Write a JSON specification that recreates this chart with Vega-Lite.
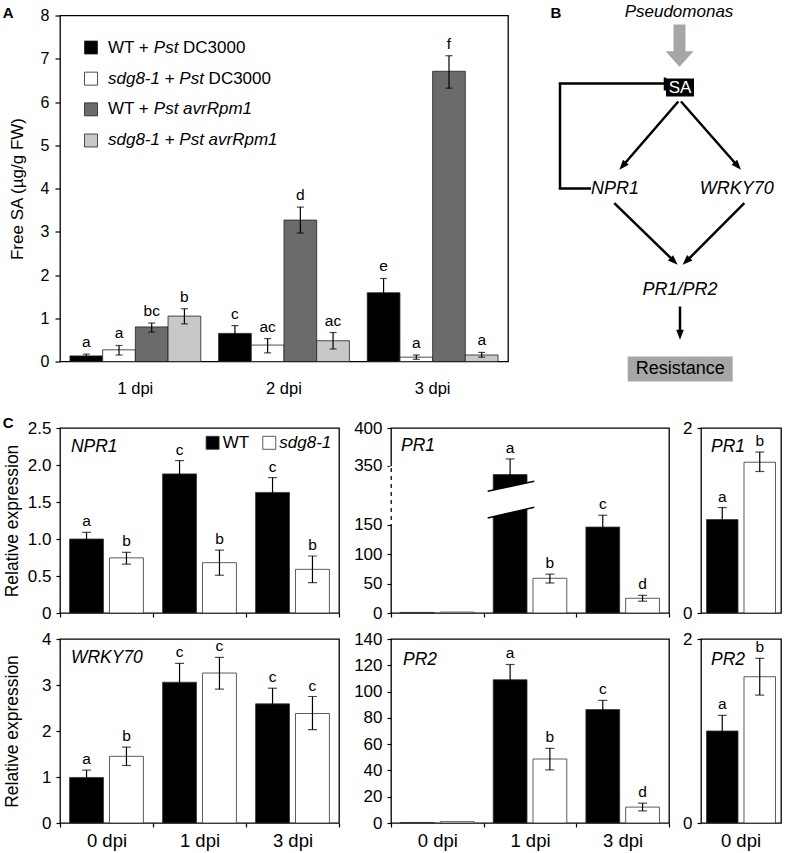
{
  "$schema": "https://vega.github.io/schema/vega-lite/v6.json",
  "padding": {"left": 2, "top": 1.5, "right": 0, "bottom": 0},
  "background": "white",
  "config": {
    "font": "Liberation Sans",
    "view": {"stroke": "#000000", "strokeWidth": 1.3},
    "axis": {"domain": false, "grid": false, "labelOverlap": false, "labelColor": "#000000", "labelFont": "Liberation Sans", "labelFontSize": 17, "tickColor": "#000000", "tickWidth": 1.2, "tickSize": 4, "labelPadding": 5, "titleColor": "#000000", "titleFont": "Liberation Sans", "titleFontWeight": "normal", "titleFontSize": 17.5},
    "text": {"color": "#000000"}
  },
  "spacing": 16.5,
  "vconcat": [
    {
      "spacing": 8,
      "bounds": "flush",
      "hconcat": [
        {
          "width": 448, "height": 346,
          "layer": [
            {
              "data": {"values": [
                {"day": "1 dpi", "series": "WT + Pst DC3000", "v": 0.13, "lo": 0.09, "hi": 0.17, "lab": "a"},
                {"day": "1 dpi", "series": "sdg8-1 + Pst DC3000", "v": 0.27, "lo": 0.15, "hi": 0.37, "lab": "a"},
                {"day": "1 dpi", "series": "WT + Pst avrRpm1", "v": 0.80, "lo": 0.68, "hi": 0.89, "lab": "bc"},
                {"day": "1 dpi", "series": "sdg8-1 + Pst avrRpm1", "v": 1.05, "lo": 0.87, "hi": 1.22, "lab": "b"},
                {"day": "2 dpi", "series": "WT + Pst DC3000", "v": 0.65, "lo": 0.47, "hi": 0.83, "lab": "c"},
                {"day": "2 dpi", "series": "sdg8-1 + Pst DC3000", "v": 0.38, "lo": 0.20, "hi": 0.53, "lab": "ac"},
                {"day": "2 dpi", "series": "WT + Pst avrRpm1", "v": 3.27, "lo": 2.97, "hi": 3.57, "lab": "d"},
                {"day": "2 dpi", "series": "sdg8-1 + Pst avrRpm1", "v": 0.48, "lo": 0.29, "hi": 0.67, "lab": "ac"},
                {"day": "3 dpi", "series": "WT + Pst DC3000", "v": 1.59, "lo": 1.27, "hi": 1.92, "lab": "e"},
                {"day": "3 dpi", "series": "sdg8-1 + Pst DC3000", "v": 0.10, "lo": 0.05, "hi": 0.15, "lab": "a"},
                {"day": "3 dpi", "series": "WT + Pst avrRpm1", "v": 6.71, "lo": 6.32, "hi": 7.07, "lab": "f"},
                {"day": "3 dpi", "series": "sdg8-1 + Pst avrRpm1", "v": 0.15, "lo": 0.10, "hi": 0.21, "lab": "a"}
              ]},
              "encoding": {
                "x": {"field": "day", "type": "nominal", "sort": ["1 dpi", "2 dpi", "3 dpi"], "scale": {"paddingInner": 0.12, "paddingOuter": 0.067}, "axis": {"title": null, "labelAngle": 0, "ticks": false, "tickSize": 0, "labelPadding": 19, "labelFontSize": 16.5}},
                "xOffset": {"field": "series", "type": "nominal", "sort": ["WT + Pst DC3000", "sdg8-1 + Pst DC3000", "WT + Pst avrRpm1", "sdg8-1 + Pst avrRpm1"], "scale": {"paddingInner": 0, "paddingOuter": 0}}
              },
              "layer": [
                {"mark": {"type": "bar", "stroke": "#222222", "strokeWidth": 0.8},
                 "encoding": {
                   "y": {"field": "v", "type": "quantitative", "scale": {"domain": [0, 8], "nice": false, "zero": false}, "axis": {"title": "Free SA (µg/g FW)", "values": [0, 1, 2, 3, 4, 5, 6, 7, 8], "tickCount": 30, "format": "d", "labelOverlap": false, "tickSize": 5, "labelPadding": 6, "labelFontSize": 16, "titleFontSize": 17, "titlePadding": 14}},
                   "color": {"field": "series", "type": "nominal", "scale": {"domain": ["WT + Pst DC3000", "sdg8-1 + Pst DC3000", "WT + Pst avrRpm1", "sdg8-1 + Pst avrRpm1"], "range": ["#000000", "#ffffff", "#6b6b6b", "#c8c8c8"]}, "legend": null}
                 }},
                {"mark": {"type": "rule", "color": "#000000", "strokeWidth": 1.2}, "encoding": {"y": {"field": "lo", "type": "quantitative"}, "y2": {"field": "hi"}}},
                {"mark": {"type": "tick", "color": "#000000", "size": 7, "thickness": 1.2}, "encoding": {"y": {"field": "lo", "type": "quantitative"}}},
                {"mark": {"type": "tick", "color": "#000000", "size": 7, "thickness": 1.2}, "encoding": {"y": {"field": "hi", "type": "quantitative"}}},
                {"mark": {"type": "text", "fontSize": 15.5, "baseline": "bottom", "dy": -4}, "encoding": {"y": {"field": "hi", "type": "quantitative"}, "text": {"field": "lab"}}}
              ]
            },
            {
              "data": {"values": [
                {"kind": "b", "fx": -0.1279, "v": 8.05, "t": "A", "fs": 15},
                {"kind": "sq", "fx": 0.0692, "v": 7.26, "series": "WT + Pst DC3000"},
                {"kind": "sq", "fx": 0.0692, "v": 6.54, "series": "sdg8-1 + Pst DC3000"},
                {"kind": "sq", "fx": 0.0692, "v": 5.83, "series": "WT + Pst avrRpm1"},
                {"kind": "sq", "fx": 0.0692, "v": 5.11, "series": "sdg8-1 + Pst avrRpm1"},
                {"kind": "n", "fx": 0.1071, "v": 7.26, "t": "WT +", "fs": 17},
                {"kind": "i", "fx": 0.2094, "v": 7.26, "t": "Pst", "fs": 17},
                {"kind": "n", "fx": 0.2746, "v": 7.26, "t": "DC3000", "fs": 17},
                {"kind": "i", "fx": 0.1071, "v": 6.54, "t": "sdg8-1", "fs": 17},
                {"kind": "n", "fx": 0.2337, "v": 6.54, "t": "+", "fs": 17},
                {"kind": "i", "fx": 0.2663, "v": 6.54, "t": "Pst", "fs": 17},
                {"kind": "n", "fx": 0.3317, "v": 6.54, "t": "DC3000", "fs": 17},
                {"kind": "n", "fx": 0.1071, "v": 5.83, "t": "WT +", "fs": 17},
                {"kind": "i", "fx": 0.2094, "v": 5.83, "t": "Pst avrRpm1", "fs": 17},
                {"kind": "i", "fx": 0.1071, "v": 5.11, "t": "sdg8-1", "fs": 17},
                {"kind": "n", "fx": 0.2337, "v": 5.11, "t": "+", "fs": 17},
                {"kind": "i", "fx": 0.2663, "v": 5.11, "t": "Pst avrRpm1", "fs": 17}
              ]},
              "encoding": {
                "x": {"field": "fx", "type": "quantitative", "scale": {"domain": [0, 1], "nice": false, "zero": false}, "axis": null},
                "y": {"field": "v", "type": "quantitative", "axis": {"title": "Free SA (µg/g FW)", "values": [0, 1, 2, 3, 4, 5, 6, 7, 8], "tickCount": 30, "format": "d", "labelOverlap": false, "tickSize": 5, "labelPadding": 6, "labelFontSize": 16, "titleFontSize": 17, "titlePadding": 14}}
              },
              "layer": [
                {"transform": [{"filter": "datum.kind === 'sq'"}], "mark": {"type": "point", "shape": "square", "filled": true, "size": 169, "stroke": "#222222", "strokeWidth": 0.8, "opacity": 1}, "encoding": {"color": {"field": "series", "type": "nominal"}}},
                {"transform": [{"filter": "datum.kind === 'n'"}], "mark": {"type": "text", "align": "left", "baseline": "middle"}, "encoding": {"text": {"field": "t"}, "size": {"field": "fs", "type": "quantitative", "scale": null, "legend": null}}},
                {"transform": [{"filter": "datum.kind === 'i'"}], "mark": {"type": "text", "align": "left", "baseline": "middle", "fontStyle": "italic"}, "encoding": {"text": {"field": "t"}, "size": {"field": "fs", "type": "quantitative", "scale": null, "legend": null}}},
                {"transform": [{"filter": "datum.kind === 'b'"}], "mark": {"type": "text", "align": "left", "baseline": "middle", "fontWeight": "bold"}, "encoding": {"text": {"field": "t"}, "size": {"field": "fs", "type": "quantitative", "scale": null, "legend": null}}}
              ]
            }
          ],
          "resolve": {"scale": {"x": "independent", "xOffset": "independent"}}
        },
        {
          "width": 268, "height": 346,
          "view": {"stroke": null},
          "encoding": {
            "x": {"field": "gx", "type": "quantitative", "scale": {"domain": [0, 268], "nice": false, "zero": false}, "axis": null},
            "y": {"field": "gy", "type": "quantitative", "scale": {"domain": [0, 346], "nice": false, "zero": false}, "axis": null}
          },
          "layer": [
            {"data": {"values": [
              {"gx": 150, "gx2": 178, "gy": 283, "gy2": 265, "fill": "#000000"},
              {"gx": 111.7, "gx2": 216.7, "gy": 5, "gy2": -20, "fill": "#a6a6a6"}
            ]}, "mark": {"type": "rect"}, "encoding": {"x2": {"field": "gx2"}, "y2": {"field": "gy2"}, "color": {"field": "fill", "type": "nominal", "scale": null}}},
            {"data": {"values": [{"gx": 163.5, "gy": 337, "gx2": 163.5, "gy2": 309}]}, "mark": {"type": "rule", "color": "#a6a6a6", "strokeWidth": 12}, "encoding": {"x2": {"field": "gx2"}, "y2": {"field": "gy2"}}},
            {"data": {"values": [{"gx": 163.5, "gy": 302.5}]}, "mark": {"type": "point", "shape": "M-1,-0.55L1,-0.55L0,0.55Z", "filled": true, "size": 784, "color": "#a6a6a6", "opacity": 1, "strokeWidth": 0}, "encoding": {}},
            {"data": {"values": [
              {"gx": 162.3, "gy": 260, "gx2": 108.5, "gy2": 197.7},
              {"gx": 165, "gy": 260, "gx2": 219.7, "gy2": 197.7},
              {"gx": 98.3, "gy": 158.3, "gx2": 156, "gy2": 102.3},
              {"gx": 228.3, "gy": 158.3, "gx2": 172.4, "gy2": 102.3},
              {"gx": 164, "gy": 55, "gx2": 164, "gy2": 29.7},
              {"gx": 149, "gy": 284, "gx2": 149, "gy2": 271}
            ]}, "mark": {"type": "rule", "color": "#000000", "strokeWidth": 2.5}, "encoding": {"x2": {"field": "gx2"}, "y2": {"field": "gy2"}}},
            {"data": {"values": [
              {"gx": 148, "gy": 278, "o": 1},
              {"gx": 44, "gy": 278, "o": 2},
              {"gx": 44, "gy": 173, "o": 3},
              {"gx": 75, "gy": 173, "o": 4}
            ]}, "mark": {"type": "line", "color": "#000000", "strokeWidth": 2.5}, "encoding": {"order": {"field": "o", "type": "quantitative"}}},
            {"data": {"values": [
              {"gx": 106.6, "gy": 195.5, "ang": 220.8},
              {"gx": 221.7, "gy": 195.4, "ang": 138.7},
              {"gx": 158.1, "gy": 100.2, "ang": 134.2},
              {"gx": 170.2, "gy": 100.2, "ang": 225},
              {"gx": 164, "gy": 26.7, "ang": 180}
            ]}, "mark": {"type": "point", "shape": "M0,-1L0.75,1L-0.75,1Z", "filled": true, "size": 100, "color": "#000000", "opacity": 1, "strokeWidth": 0}, "encoding": {"angle": {"field": "ang", "type": "quantitative", "scale": null}}},
            {"data": {"values": [
              {"t": "Pseudomonas", "gx": 163, "gy": 350, "fs": 17, "c": "#000000"},
              {"t": "NPR1", "gx": 99, "gy": 173, "fs": 18, "c": "#000000"},
              {"t": "WRKY70", "gx": 220.8, "gy": 173, "fs": 18, "c": "#000000"},
              {"t": "PR1/PR2", "gx": 164, "gy": 72, "fs": 18, "c": "#000000"}
            ]}, "mark": {"type": "text", "align": "center", "baseline": "middle", "fontStyle": "italic"}, "encoding": {"text": {"field": "t"}, "size": {"field": "fs", "type": "quantitative", "scale": null, "legend": null}, "color": {"field": "c", "type": "nominal", "scale": null}}},
            {"data": {"values": [
              {"t": "SA", "gx": 164, "gy": 274, "fs": 17, "c": "#ffffff"},
              {"t": "Resistance", "gx": 164.2, "gy": -7.5, "fs": 18, "c": "#000000"}
            ]}, "mark": {"type": "text", "align": "center", "baseline": "middle"}, "encoding": {"text": {"field": "t"}, "size": {"field": "fs", "type": "quantitative", "scale": null, "legend": null}, "color": {"field": "c", "type": "nominal", "scale": null}}},
            {"data": {"values": [{"t": "B", "gx": 40, "gy": 349, "fs": 15}]}, "mark": {"type": "text", "align": "center", "baseline": "middle", "fontWeight": "bold"}, "encoding": {"text": {"field": "t"}, "size": {"field": "fs", "type": "quantitative", "scale": null, "legend": null}}}
          ]
        }
      ]
    },
    {
      "spacing": 7,
      "vconcat": [
        {
          "spacing": 0,
          "bounds": "flush",
          "hconcat": [
            {
              "width": 279, "height": 185,
              "layer": [
                {
                  "data": {"values": [
                    {"g": "0 dpi", "s": "WT", "v": 1.0, "lo": 0.91, "hi": 1.09, "lab": "a"},
                    {"g": "0 dpi", "s": "sdg8-1", "v": 0.745, "lo": 0.66, "hi": 0.82, "lab": "b"},
                    {"g": "1 dpi", "s": "WT", "v": 1.88, "lo": 1.70, "hi": 2.06, "lab": "c"},
                    {"g": "1 dpi", "s": "sdg8-1", "v": 0.68, "lo": 0.51, "hi": 0.85, "lab": "b"},
                    {"g": "3 dpi", "s": "WT", "v": 1.63, "lo": 1.43, "hi": 1.83, "lab": "c"},
                    {"g": "3 dpi", "s": "sdg8-1", "v": 0.59, "lo": 0.41, "hi": 0.77, "lab": "b"}
                  ]},
                  "encoding": {
                    "x": {"field": "g", "type": "nominal", "sort": ["0 dpi", "1 dpi", "3 dpi"], "scale": {"paddingInner": 0, "paddingOuter": 0}, "axis": {"title": null, "labels": false, "tickBand": "extent"}},
                    "xOffset": {"field": "s", "type": "nominal", "sort": ["WT", "sdg8-1"], "scale": {"paddingInner": 0.15, "paddingOuter": 0.24}}
                  },
                  "layer": [
                    {"mark": {"type": "bar", "stroke": "#333333", "strokeWidth": 0.8}, "encoding": {
                      "y": {"field": "v", "type": "quantitative", "scale": {"domain": [0, 2.5], "nice": false, "zero": false}, "axis": {"title": "Relative expression", "values": [0, 0.5, 1, 1.5, 2, 2.5], "tickCount": 30, "labelOverlap": false, "labelExpr": "datum.value === 0 ? '0' : format(datum.value, '.1f')", "minExtent": 33, "maxExtent": 33, "titlePadding": 6}},
                      "color": {"field": "s", "type": "nominal", "scale": {"domain": ["WT", "sdg8-1"], "range": ["#000000", "#ffffff"]}, "legend": null}}},
                    {"mark": {"type": "rule", "color": "#000000", "strokeWidth": 1.2}, "encoding": {"y": {"field": "lo", "type": "quantitative"}, "y2": {"field": "hi"}}},
                    {"mark": {"type": "tick", "color": "#000000", "size": 9, "thickness": 1.2}, "encoding": {"y": {"field": "lo", "type": "quantitative"}}},
                    {"mark": {"type": "tick", "color": "#000000", "size": 9, "thickness": 1.2}, "encoding": {"y": {"field": "hi", "type": "quantitative"}}},
                    {"mark": {"type": "text", "fontSize": 15.5, "baseline": "bottom", "dy": -3}, "encoding": {"y": {"field": "hi", "type": "quantitative"}, "text": {"field": "lab"}}}
                  ]
                },
                {
                  "data": {"values": [
                    {"kind": "b", "fx": -0.2054, "v": 2.57, "t": "C", "fs": 15},
                    {"kind": "i", "fx": 0.039, "v": 2.24, "t": "NPR1", "fs": 17.5},
                    {"kind": "sq", "fx": 0.547, "v": 2.30, "s": "WT"},
                    {"kind": "sq", "fx": 0.750, "v": 2.30, "s": "sdg8-1"},
                    {"kind": "n", "fx": 0.583, "v": 2.30, "t": "WT", "fs": 17},
                    {"kind": "i", "fx": 0.786, "v": 2.30, "t": "sdg8-1", "fs": 17}
                  ]},
                  "encoding": {
                    "x": {"field": "fx", "type": "quantitative", "scale": {"domain": [0, 1], "nice": false, "zero": false}, "axis": null},
                    "y": {"field": "v", "type": "quantitative", "axis": {"title": "Relative expression", "values": [0, 0.5, 1, 1.5, 2, 2.5], "tickCount": 30, "labelOverlap": false, "labelExpr": "datum.value === 0 ? '0' : format(datum.value, '.1f')", "minExtent": 33, "maxExtent": 33, "titlePadding": 6}}
                  },
                  "layer": [
                    {"transform": [{"filter": "datum.kind === 'sq'"}], "mark": {"type": "point", "shape": "square", "filled": true, "size": 169, "stroke": "#333333", "strokeWidth": 0.8, "opacity": 1}, "encoding": {"color": {"field": "s", "type": "nominal"}}},
                    {"transform": [{"filter": "datum.kind === 'n'"}], "mark": {"type": "text", "align": "left", "baseline": "middle"}, "encoding": {"text": {"field": "t"}, "size": {"field": "fs", "type": "quantitative", "scale": null, "legend": null}}},
                    {"transform": [{"filter": "datum.kind === 'i'"}], "mark": {"type": "text", "align": "left", "baseline": "middle", "fontStyle": "italic"}, "encoding": {"text": {"field": "t"}, "size": {"field": "fs", "type": "quantitative", "scale": null, "legend": null}}},
                    {"transform": [{"filter": "datum.kind === 'b'"}], "mark": {"type": "text", "align": "left", "baseline": "middle", "fontWeight": "bold"}, "encoding": {"text": {"field": "t"}, "size": {"field": "fs", "type": "quantitative", "scale": null, "legend": null}}}
                  ]
                }
              ],
              "resolve": {"scale": {"x": "independent", "xOffset": "independent"}}
            },
            {"width": 52, "height": 185, "view": {"stroke": null}, "data": {"values": [{"a": 1}]}, "mark": {"type": "point", "opacity": 0}},
            {
              "width": 278, "height": 185,
              "layer": [
                {
                  "data": {"values": [
                    {"g": "0 dpi", "s": "WT", "v": 1, "lo": 1, "hi": 1, "lab": ""},
                    {"g": "0 dpi", "s": "sdg8-1", "v": 1.6, "lo": 1.6, "hi": 1.6, "lab": ""},
                    {"g": "1 dpi", "s": "WT", "v": 320, "lo": 281, "hi": 359, "lab": "a"},
                    {"g": "1 dpi", "s": "sdg8-1", "v": 59, "lo": 51, "hi": 66, "lab": "b"},
                    {"g": "3 dpi", "s": "WT", "v": 146, "lo": 110, "hi": 182, "lab": "c"},
                    {"g": "3 dpi", "s": "sdg8-1", "v": 25, "lo": 20, "hi": 30, "lab": "d"}
                  ]},
                  "encoding": {
                    "x": {"field": "g", "type": "nominal", "sort": ["0 dpi", "1 dpi", "3 dpi"], "scale": {"paddingInner": 0, "paddingOuter": 0}, "axis": {"title": null, "labels": false, "tickBand": "extent"}},
                    "xOffset": {"field": "s", "type": "nominal", "sort": ["WT", "sdg8-1"], "scale": {"paddingInner": 0.15, "paddingOuter": 0.24}}
                  },
                  "layer": [
                    {"mark": {"type": "bar", "stroke": "#333333", "strokeWidth": 0.8}, "encoding": {
                      "y": {"field": "v", "type": "quantitative", "scale": {"domain": [0, 150, 350, 400], "range": [185, 96.7, 37.7, 0], "nice": false, "zero": false}, "axis": {"title": null, "values": [0, 50, 100, 150, 350, 400], "tickCount": 30, "format": "d", "labelOverlap": false}},
                      "color": {"field": "s", "type": "nominal", "scale": {"domain": ["WT", "sdg8-1"], "range": ["#000000", "#ffffff"]}, "legend": null}}},
                    {"transform": [{"filter": "datum.hi > datum.lo"}], "mark": {"type": "rule", "color": "#000000", "strokeWidth": 1.2}, "encoding": {"y": {"field": "lo", "type": "quantitative"}, "y2": {"field": "hi"}}},
                    {"transform": [{"filter": "datum.hi > datum.lo"}], "mark": {"type": "tick", "color": "#000000", "size": 9, "thickness": 1.2}, "encoding": {"y": {"field": "lo", "type": "quantitative"}}},
                    {"transform": [{"filter": "datum.hi > datum.lo"}], "mark": {"type": "tick", "color": "#000000", "size": 9, "thickness": 1.2}, "encoding": {"y": {"field": "hi", "type": "quantitative"}}},
                    {"mark": {"type": "text", "fontSize": 15.5, "baseline": "bottom", "dy": -3}, "encoding": {"y": {"field": "hi", "type": "quantitative"}, "text": {"field": "lab"}}}
                  ]
                },
                {
                  "data": {"values": [
                    {"kind": "i", "fx": 0.108, "v": 375.7, "t": "PR1", "fs": 17.5},
                    {"kind": "brk", "fx": 1.043, "v": 263.2, "v2": 172.7},
                    {"kind": "brk", "fx": 1.546, "v": 297.1, "v2": 209},
                    {"kind": "edge", "e": "top", "fx": 1.043, "v": 263.2},
                    {"kind": "edge", "e": "top", "fx": 1.546, "v": 297.1},
                    {"kind": "edge", "e": "bot", "fx": 1.043, "v": 172.7},
                    {"kind": "edge", "e": "bot", "fx": 1.546, "v": 209},
                    {"kind": "dash", "fx": 0, "v": 152, "v2": 348}
                  ]},
                  "encoding": {
                    "x": {"field": "fx", "type": "quantitative", "scale": {"domain": [0, 3], "nice": false, "zero": false}, "axis": null},
                    "y": {"field": "v", "type": "quantitative", "axis": {"title": null, "values": [0, 50, 100, 150, 350, 400], "tickCount": 30, "format": "d", "labelOverlap": false}}
                  },
                  "layer": [
                    {"transform": [{"filter": "datum.kind === 'brk'"}], "mark": {"type": "area", "color": "#ffffff", "opacity": 1}, "encoding": {"y2": {"field": "v2"}}},
                    {"transform": [{"filter": "datum.kind === 'edge'"}], "mark": {"type": "line", "color": "#000000", "strokeWidth": 1.5}, "encoding": {"detail": {"field": "e", "type": "nominal"}}},
                    {"transform": [{"filter": "datum.kind === 'dash'"}], "mark": {"type": "rule", "color": "#ffffff", "strokeWidth": 3, "strokeDash": [4, 4]}, "encoding": {"y2": {"field": "v2"}}},
                    {"transform": [{"filter": "datum.kind === 'i'"}], "mark": {"type": "text", "align": "left", "baseline": "middle", "fontStyle": "italic"}, "encoding": {"text": {"field": "t"}, "size": {"field": "fs", "type": "quantitative", "scale": null, "legend": null}}}
                  ]
                }
              ],
              "resolve": {"scale": {"x": "independent", "xOffset": "independent"}}
            },
            {"width": 32, "height": 185, "view": {"stroke": null}, "data": {"values": [{"a": 1}]}, "mark": {"type": "point", "opacity": 0}},
            {
              "width": 80, "height": 185,
              "layer": [
                {
                  "data": {"values": [
                    {"g": "0 dpi", "s": "WT", "v": 1.01, "lo": 0.88, "hi": 1.14, "lab": "a"},
                    {"g": "0 dpi", "s": "sdg8-1", "v": 1.63, "lo": 1.53, "hi": 1.74, "lab": "b"}
                  ]},
                  "encoding": {
                    "x": {"field": "g", "type": "nominal", "sort": ["0 dpi"], "scale": {"paddingInner": 0, "paddingOuter": 0}, "axis": {"title": null, "labels": false, "ticks": false}},
                    "xOffset": {"field": "s", "type": "nominal", "sort": ["WT", "sdg8-1"], "scale": {"paddingInner": 0.16, "paddingOuter": 0.147}}
                  },
                  "layer": [
                    {"mark": {"type": "bar", "stroke": "#333333", "strokeWidth": 0.8}, "encoding": {
                      "y": {"field": "v", "type": "quantitative", "scale": {"domain": [0, 2], "nice": false, "zero": false}, "axis": {"title": null, "values": [0, 1, 2], "tickCount": 30, "format": "d", "labelOverlap": false}},
                      "color": {"field": "s", "type": "nominal", "scale": {"domain": ["WT", "sdg8-1"], "range": ["#000000", "#ffffff"]}, "legend": null}}},
                    {"mark": {"type": "rule", "color": "#000000", "strokeWidth": 1.2}, "encoding": {"y": {"field": "lo", "type": "quantitative"}, "y2": {"field": "hi"}}},
                    {"mark": {"type": "tick", "color": "#000000", "size": 9, "thickness": 1.2}, "encoding": {"y": {"field": "lo", "type": "quantitative"}}},
                    {"mark": {"type": "tick", "color": "#000000", "size": 9, "thickness": 1.2}, "encoding": {"y": {"field": "hi", "type": "quantitative"}}},
                    {"mark": {"type": "text", "fontSize": 15.5, "baseline": "bottom", "dy": -3}, "encoding": {"y": {"field": "hi", "type": "quantitative"}, "text": {"field": "lab"}}}
                  ]
                },
                {
                  "data": {"values": [{"kind": "i", "fx": 0.125, "v": 1.80, "t": "PR1", "fs": 17.5}]},
                  "encoding": {
                    "x": {"field": "fx", "type": "quantitative", "scale": {"domain": [0, 1], "nice": false, "zero": false}, "axis": null},
                    "y": {"field": "v", "type": "quantitative", "axis": {"title": null, "values": [0, 1, 2], "tickCount": 30, "format": "d", "labelOverlap": false}}
                  },
                  "layer": [
                    {"mark": {"type": "text", "align": "left", "baseline": "middle", "fontStyle": "italic"}, "encoding": {"text": {"field": "t"}, "size": {"field": "fs", "type": "quantitative", "scale": null, "legend": null}}}
                  ]
                }
              ],
              "resolve": {"scale": {"x": "independent", "xOffset": "independent"}}
            }
          ]
        },
        {
          "spacing": 0,
          "bounds": "flush",
          "hconcat": [
            {
              "width": 279, "height": 184,
              "layer": [
                {
                  "data": {"values": [
                    {"g": "0 dpi", "s": "WT", "v": 0.99, "lo": 0.83, "hi": 1.15, "lab": "a"},
                    {"g": "0 dpi", "s": "sdg8-1", "v": 1.45, "lo": 1.25, "hi": 1.65, "lab": "b"},
                    {"g": "1 dpi", "s": "WT", "v": 3.06, "lo": 2.65, "hi": 3.47, "lab": "c"},
                    {"g": "1 dpi", "s": "sdg8-1", "v": 3.26, "lo": 2.91, "hi": 3.60, "lab": "c"},
                    {"g": "3 dpi", "s": "WT", "v": 2.59, "lo": 2.25, "hi": 2.93, "lab": "c"},
                    {"g": "3 dpi", "s": "sdg8-1", "v": 2.38, "lo": 2.03, "hi": 2.75, "lab": "c"}
                  ]},
                  "encoding": {
                    "x": {"field": "g", "type": "nominal", "sort": ["0 dpi", "1 dpi", "3 dpi"], "scale": {"paddingInner": 0, "paddingOuter": 0}, "axis": {"title": null, "labelAngle": 0, "tickBand": "extent", "labelFontSize": 18.5, "labelPadding": 4}},
                    "xOffset": {"field": "s", "type": "nominal", "sort": ["WT", "sdg8-1"], "scale": {"paddingInner": 0.15, "paddingOuter": 0.24}}
                  },
                  "layer": [
                    {"mark": {"type": "bar", "stroke": "#333333", "strokeWidth": 0.8}, "encoding": {
                      "y": {"field": "v", "type": "quantitative", "scale": {"domain": [0, 4], "nice": false, "zero": false}, "axis": {"title": "Relative expression", "values": [0, 1, 2, 3, 4], "tickCount": 30, "format": "d", "labelOverlap": false, "minExtent": 33, "maxExtent": 33, "titlePadding": 6}},
                      "color": {"field": "s", "type": "nominal", "scale": {"domain": ["WT", "sdg8-1"], "range": ["#000000", "#ffffff"]}, "legend": null}}},
                    {"mark": {"type": "rule", "color": "#000000", "strokeWidth": 1.2}, "encoding": {"y": {"field": "lo", "type": "quantitative"}, "y2": {"field": "hi"}}},
                    {"mark": {"type": "tick", "color": "#000000", "size": 9, "thickness": 1.2}, "encoding": {"y": {"field": "lo", "type": "quantitative"}}},
                    {"mark": {"type": "tick", "color": "#000000", "size": 9, "thickness": 1.2}, "encoding": {"y": {"field": "hi", "type": "quantitative"}}},
                    {"mark": {"type": "text", "fontSize": 15.5, "baseline": "bottom", "dy": -3}, "encoding": {"y": {"field": "hi", "type": "quantitative"}, "text": {"field": "lab"}}}
                  ]
                },
                {
                  "data": {"values": [{"kind": "i", "fx": 0.039, "v": 3.59, "t": "WRKY70", "fs": 17.5}]},
                  "encoding": {
                    "x": {"field": "fx", "type": "quantitative", "scale": {"domain": [0, 1], "nice": false, "zero": false}, "axis": null},
                    "y": {"field": "v", "type": "quantitative", "axis": {"title": "Relative expression", "values": [0, 1, 2, 3, 4], "tickCount": 30, "format": "d", "labelOverlap": false, "minExtent": 33, "maxExtent": 33, "titlePadding": 6}}
                  },
                  "layer": [
                    {"mark": {"type": "text", "align": "left", "baseline": "middle", "fontStyle": "italic"}, "encoding": {"text": {"field": "t"}, "size": {"field": "fs", "type": "quantitative", "scale": null, "legend": null}}}
                  ]
                }
              ],
              "resolve": {"scale": {"x": "independent", "xOffset": "independent"}}
            },
            {"width": 52, "height": 184, "view": {"stroke": null}, "data": {"values": [{"a": 1}]}, "mark": {"type": "point", "opacity": 0}},
            {
              "width": 278, "height": 184,
              "layer": [
                {
                  "data": {"values": [
                    {"g": "0 dpi", "s": "WT", "v": 0.4, "lo": 0.4, "hi": 0.4, "lab": ""},
                    {"g": "0 dpi", "s": "sdg8-1", "v": 1.0, "lo": 1.0, "hi": 1.0, "lab": ""},
                    {"g": "1 dpi", "s": "WT", "v": 109, "lo": 97.4, "hi": 120.6, "lab": "a"},
                    {"g": "1 dpi", "s": "sdg8-1", "v": 48.7, "lo": 40.4, "hi": 56.8, "lab": "b"},
                    {"g": "3 dpi", "s": "WT", "v": 86.3, "lo": 79.3, "hi": 93.3, "lab": "c"},
                    {"g": "3 dpi", "s": "sdg8-1", "v": 12.1, "lo": 9.2, "hi": 15.1, "lab": "d"}
                  ]},
                  "encoding": {
                    "x": {"field": "g", "type": "nominal", "sort": ["0 dpi", "1 dpi", "3 dpi"], "scale": {"paddingInner": 0, "paddingOuter": 0}, "axis": {"title": null, "labelAngle": 0, "tickBand": "extent", "labelFontSize": 18.5, "labelPadding": 4}},
                    "xOffset": {"field": "s", "type": "nominal", "sort": ["WT", "sdg8-1"], "scale": {"paddingInner": 0.15, "paddingOuter": 0.24}}
                  },
                  "layer": [
                    {"mark": {"type": "bar", "stroke": "#333333", "strokeWidth": 0.8}, "encoding": {
                      "y": {"field": "v", "type": "quantitative", "scale": {"domain": [0, 140], "nice": false, "zero": false}, "axis": {"title": null, "values": [0, 20, 40, 60, 80, 100, 120, 140], "tickCount": 30, "format": "d", "labelOverlap": false}},
                      "color": {"field": "s", "type": "nominal", "scale": {"domain": ["WT", "sdg8-1"], "range": ["#000000", "#ffffff"]}, "legend": null}}},
                    {"transform": [{"filter": "datum.hi > datum.lo"}], "mark": {"type": "rule", "color": "#000000", "strokeWidth": 1.2}, "encoding": {"y": {"field": "lo", "type": "quantitative"}, "y2": {"field": "hi"}}},
                    {"transform": [{"filter": "datum.hi > datum.lo"}], "mark": {"type": "tick", "color": "#000000", "size": 9, "thickness": 1.2}, "encoding": {"y": {"field": "lo", "type": "quantitative"}}},
                    {"transform": [{"filter": "datum.hi > datum.lo"}], "mark": {"type": "tick", "color": "#000000", "size": 9, "thickness": 1.2}, "encoding": {"y": {"field": "hi", "type": "quantitative"}}},
                    {"mark": {"type": "text", "fontSize": 15.5, "baseline": "bottom", "dy": -3}, "encoding": {"y": {"field": "hi", "type": "quantitative"}, "text": {"field": "lab"}}}
                  ]
                },
                {
                  "data": {"values": [{"kind": "i", "fx": 0.043, "v": 124.3, "t": "PR2", "fs": 17.5}]},
                  "encoding": {
                    "x": {"field": "fx", "type": "quantitative", "scale": {"domain": [0, 1], "nice": false, "zero": false}, "axis": null},
                    "y": {"field": "v", "type": "quantitative", "axis": {"title": null, "values": [0, 20, 40, 60, 80, 100, 120, 140], "tickCount": 30, "format": "d", "labelOverlap": false}}
                  },
                  "layer": [
                    {"mark": {"type": "text", "align": "left", "baseline": "middle", "fontStyle": "italic"}, "encoding": {"text": {"field": "t"}, "size": {"field": "fs", "type": "quantitative", "scale": null, "legend": null}}}
                  ]
                }
              ],
              "resolve": {"scale": {"x": "independent", "xOffset": "independent"}}
            },
            {"width": 32, "height": 184, "view": {"stroke": null}, "data": {"values": [{"a": 1}]}, "mark": {"type": "point", "opacity": 0}},
            {
              "width": 80, "height": 184,
              "layer": [
                {
                  "data": {"values": [
                    {"g": "0 dpi", "s": "WT", "v": 1.0, "lo": 0.82, "hi": 1.17, "lab": "a"},
                    {"g": "0 dpi", "s": "sdg8-1", "v": 1.59, "lo": 1.39, "hi": 1.79, "lab": "b"}
                  ]},
                  "encoding": {
                    "x": {"field": "g", "type": "nominal", "sort": ["0 dpi"], "scale": {"paddingInner": 0, "paddingOuter": 0}, "axis": {"title": null, "labelAngle": 0, "ticks": false, "tickSize": 0, "labelFontSize": 18.5, "labelPadding": 8}},
                    "xOffset": {"field": "s", "type": "nominal", "sort": ["WT", "sdg8-1"], "scale": {"paddingInner": 0.16, "paddingOuter": 0.147}}
                  },
                  "layer": [
                    {"mark": {"type": "bar", "stroke": "#333333", "strokeWidth": 0.8}, "encoding": {
                      "y": {"field": "v", "type": "quantitative", "scale": {"domain": [0, 2], "nice": false, "zero": false}, "axis": {"title": null, "values": [0, 1, 2], "tickCount": 30, "format": "d", "labelOverlap": false}},
                      "color": {"field": "s", "type": "nominal", "scale": {"domain": ["WT", "sdg8-1"], "range": ["#000000", "#ffffff"]}, "legend": null}}},
                    {"mark": {"type": "rule", "color": "#000000", "strokeWidth": 1.2}, "encoding": {"y": {"field": "lo", "type": "quantitative"}, "y2": {"field": "hi"}}},
                    {"mark": {"type": "tick", "color": "#000000", "size": 9, "thickness": 1.2}, "encoding": {"y": {"field": "lo", "type": "quantitative"}}},
                    {"mark": {"type": "tick", "color": "#000000", "size": 9, "thickness": 1.2}, "encoding": {"y": {"field": "hi", "type": "quantitative"}}},
                    {"mark": {"type": "text", "fontSize": 15.5, "baseline": "bottom", "dy": -3}, "encoding": {"y": {"field": "hi", "type": "quantitative"}, "text": {"field": "lab"}}}
                  ]
                },
                {
                  "data": {"values": [{"kind": "i", "fx": 0.125, "v": 1.775, "t": "PR2", "fs": 17.5}]},
                  "encoding": {
                    "x": {"field": "fx", "type": "quantitative", "scale": {"domain": [0, 1], "nice": false, "zero": false}, "axis": null},
                    "y": {"field": "v", "type": "quantitative", "axis": {"title": null, "values": [0, 1, 2], "tickCount": 30, "format": "d", "labelOverlap": false}}
                  },
                  "layer": [
                    {"mark": {"type": "text", "align": "left", "baseline": "middle", "fontStyle": "italic"}, "encoding": {"text": {"field": "t"}, "size": {"field": "fs", "type": "quantitative", "scale": null, "legend": null}}}
                  ]
                }
              ],
              "resolve": {"scale": {"x": "independent", "xOffset": "independent"}}
            }
          ]
        }
      ]
    }
  ]
}
